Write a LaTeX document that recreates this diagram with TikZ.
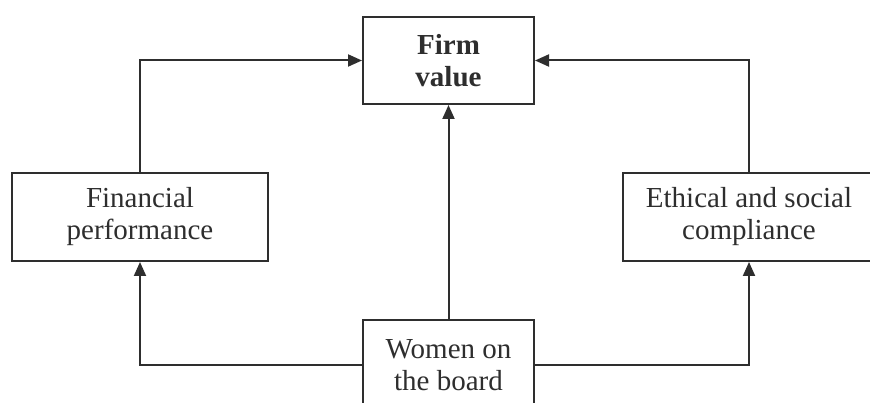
\documentclass[tikz,border=0pt]{standalone}
\usepackage{fontspec}
\setmainfont{Liberation Serif}
\usetikzlibrary{arrows.meta}
\definecolor{ink}{HTML}{2E2E2E}
\tikzset{
  box/.style={draw=ink, line width=2pt, rectangle, align=center, text=ink,
    font=\fontsize{29}{32}\selectfont, inner sep=0pt},
  conn/.style={draw=ink, line width=2pt, -{Triangle[length=14pt,width=12pt]}}
}
\begin{document}
\begin{tikzpicture}[x=1pt,y=-1pt]
\useasboundingbox (0,0) rectangle (870,403);
\fill[white] (0,0) rectangle (870,403);
\begin{scope}
\clip (0,0) rectangle (870,403);
\node[box, minimum width=171pt, minimum height=87pt] (firm) at (448.5,60.5) {\textbf{Firm}\\\textbf{value}};
\node[box, minimum width=256pt, minimum height=88pt] (fin) at (140,217) {Financial\\performance};
\node[box, minimum width=252pt, minimum height=88pt] (eth) at (749,217) {Ethical and social\\compliance};
\node[box, minimum width=171pt, minimum height=90pt] (wom) at (448.5,365) {Women on\\the board};
\end{scope}
\draw[conn] (fin.north) |- (firm.west);
\draw[conn] (eth.north) |- (firm.east);
\draw[conn] (wom.north) -- (firm.south);
\draw[conn] (wom.west) -| (fin.south);
\draw[conn] (wom.east) -| (eth.south);
\end{tikzpicture}
\end{document}
